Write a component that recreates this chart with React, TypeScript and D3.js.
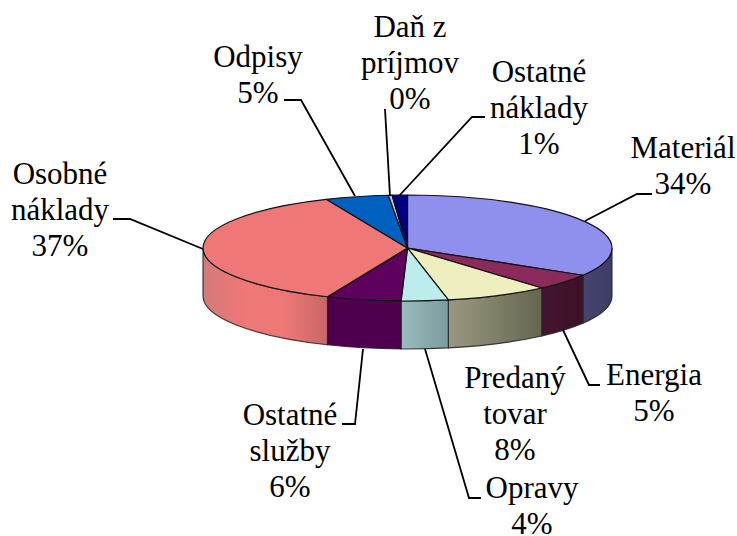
import React from "react";
import * as d3 from "d3";

const categories = ["Materiál", "Energia", "Predaný tovar", "Opravy", "Ostatné služby", "Osobné náklady", "Odpisy", "Daň z príjmov", "Ostatné náklady"];
const values = [33.6, 5, 8.2, 3.7, 5.9, 37.1, 5, 0.3, 1.2];
const percentLabels = ["34%", "5%", "8%", "4%", "6%", "37%", "5%", "0%", "1%"];
const topColors = ["#8f8fee", "#8a2b5c", "#eeeebf", "#bdecec", "#5e005e", "#ef7777", "#0060c0", "#c0c0ee", "#000080"];
const wallStops = [
  ["#44446e", "#3d3d66"], ["#441530", "#3c1026"], ["#9a9880", "#666650"], ["#9cbcbc", "#7a9c9e"],
  ["#4e004e", "#4e004e"], ["#d47a7a", "#ee7777", "#ee7777", "#c86666"], ["#004080", "#004080"], ["#808080", "#808080"], ["#000060", "#000060"],
];

const labelLines: string[][] = [["Materiál"], ["Energia"], ["Predaný", "tovar"], ["Opravy"], ["Ostatné", "služby"], ["Osobné", "náklady"], ["Odpisy"], ["Daň z", "príjmov"], ["Ostatné", "náklady"]];
const labelAnchors = [[683, 158], [654, 385], [515, 388], [532, 498], [290, 425], [60, 184], [258, 67], [410, 37], [539, 82]];
const leaders = [
  [[585, 221], [637, 194], [652, 194]],
  [[563, 330], [589, 385], [600, 385]],
  [],
  [[425, 349], [469, 498], [481, 498]],
  [[363, 349], [355, 424], [342, 424]],
  [[203, 249], [130, 219], [113, 219]],
  [[355, 196], [301, 100], [284, 100]],
  [[390, 196], [385, 109]],
  [[399, 196], [472, 117], [485, 117]],
];

const cx = 407.5, cy = 248, rx = 204.5, ry = 53, depth = 48;
const xs = d3.scaleLinear().domain([-1, 1]).range([cx - rx, cx + rx]);
const ys = d3.scaleLinear().domain([-1, 1]).range([cy - ry, cy + ry]);
const px = (a: number) => xs(Math.sin(a));
const py = (a: number) => ys(-Math.cos(a));

const pie = d3.pie<number>().sort(null)(values);
const HALF = Math.PI / 2, END = 1.5 * Math.PI;

function rimPath(a0: number, a1: number, dy = 0) {
  const sweep = a1 > a0 ? 1 : 0;
  const large = Math.abs(a1 - a0) > Math.PI ? 1 : 0;
  return `A${rx},${ry} 0 ${large} ${sweep} ${px(a1)},${py(a1) + dy}`;
}

export default function App() {
  const line = d3.line();
  return (
    <svg width={737} height={536} style={{ position: "absolute", left: 0, top: 0, background: "#fff" }} fontFamily="'Liberation Serif', serif" fontSize={31}>
      <defs>
        {pie.map((s, i) => {
          const a0 = Math.max(s.startAngle, HALF), a1 = Math.min(s.endAngle, END);
          if (a1 <= a0) return null;
          const x0 = Math.min(px(a0), px(a1)), x1 = Math.max(px(a0), px(a1));
          const stops = wallStops[i];
          return (
            <linearGradient key={i} id={`w${i}`} gradientUnits="userSpaceOnUse" x1={x0} x2={x1} y1={0} y2={0}>
              {stops.map((c, k) => <stop key={k} offset={k / (stops.length - 1)} stopColor={c} />)}
            </linearGradient>
          );
        })}
      </defs>
      {pie.map((s, i) => {
        const a0 = Math.max(s.startAngle, HALF), a1 = Math.min(s.endAngle, END);
        if (a1 <= a0) return null;
        const d = `M${px(a0)},${py(a0)}${rimPath(a0, a1)}L${px(a1)},${py(a1) + depth}${rimPath(a1, a0, depth)}Z`;
        return <path key={i} d={d} fill={`url(#w${i})`} stroke="#222" strokeOpacity={0.85} strokeWidth={1.2} />;
      })}
      {pie.map((s, i) => (
        <path key={i} d={`M${cx},${cy}L${px(s.startAngle)},${py(s.startAngle)}${rimPath(s.startAngle, s.endAngle)}Z`} fill={topColors[i]} stroke="#111" strokeWidth={1.2} strokeLinejoin="round" />
      ))}
      {leaders.map((pts, i) => pts.length ? <path key={i} d={line(pts as [number, number][]) ?? ""} fill="none" stroke="#000" strokeWidth={1.8} /> : null)}
      {categories.map((c, i) => {
        const lines = [...labelLines[i], percentLabels[i]];
        return (
          <text key={c} textAnchor="middle" fill="#000" aria-label={c}>
            {lines.map((t, k) => <tspan key={k} x={labelAnchors[i][0]} y={labelAnchors[i][1] + k * 36}>{t}</tspan>)}
          </text>
        );
      })}
    </svg>
  );
}
